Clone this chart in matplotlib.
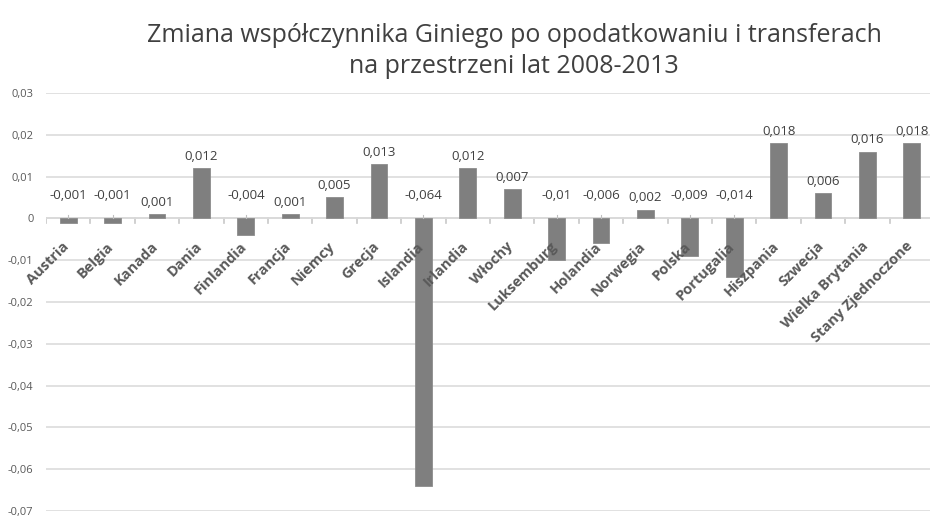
import numpy as np
import matplotlib.pyplot as plt

# dane
kraje = ["Austria", "Belgia", "Kanada", "Dania", "Finlandia", "Francja", "Niemcy",
         "Grecja", "Islandia", "Irlandia", "Włochy", "Luksemburg", "Holandia",
         "Norwegia", "Polska", "Portugalia", "Hiszpania", "Szwecja",
         "Wielka Brytania", "Stany Zjednoczone"]
zmiana = [-0.001, -0.001, 0.001, 0.012, -0.004, 0.001, 0.005, 0.013, -0.064, 0.012,
          0.007, -0.01, -0.006, 0.002, -0.009, -0.014, 0.018, 0.006, 0.016, 0.018]
etykiety = ["-0,001", "-0,001", "0,001", "0,012", "-0,004", "0,001", "0,005", "0,013",
            "-0,064", "0,012", "0,007", "-0,01", "-0,006", "0,002", "-0,009", "-0,014",
            "0,018", "0,006", "0,016", "0,018"]
y_ticks = [0.03, 0.02, 0.01, 0, -0.01, -0.02, -0.03, -0.04, -0.05, -0.06, -0.07]
y_labels = ["0,03", "0,02", "0,01", "0", "-0,01", "-0,02", "-0,03", "-0,04",
            "-0,05", "-0,06", "-0,07"]

plt.rcParams['font.family'] = ['Open Sans', 'DejaVu Sans']

fig = plt.figure(figsize=(9.3, 5.19), dpi=100)
ax = fig.add_axes([46 / 930, 8 / 519, 888 / 930, 418 / 519])

x = np.arange(len(kraje))
ax.bar(x, zmiana, width=0.38, color="#7f7f7f", edgecolor="#8c8c8c", linewidth=0.6, zorder=2)

ax.set_xlim(-0.5, len(kraje) - 0.5)
ax.set_ylim(-0.07, 0.03)
ax.set_yticks(y_ticks)
ax.set_yticklabels(y_labels, fontsize=8, color="#595959")
ax.tick_params(axis="y", length=0, pad=9)
ax.set_xticks([])
ax.grid(axis="y", color="#dcdcdc", linewidth=1.2, zorder=0)
for s in ax.spines.values():
    s.set_visible(False)

# os zerowa z kreskami
ax.axhline(0, color="#c8c8c8", linewidth=1.2, zorder=1)
for k in range(len(kraje) + 1):
    ax.plot([k - 0.5, k - 0.5], [0, -0.0012], color="#c8c8c8", linewidth=1.2, zorder=1)

# etykiety wartosci
for i, (v, t) in enumerate(zip(zmiana, etykiety)):
    if v >= 0:
        ax.annotate(t, (i, v), xytext=(0, 4), textcoords="offset points",
                    ha="center", va="bottom", fontsize=9.5, color="#404040", zorder=4)
    else:
        ax.annotate(t, (i, 0), xytext=(0, 12), textcoords="offset points",
                    ha="center", va="bottom", fontsize=9.5, color="#404040", zorder=4)
        ax.plot([i, i], [0, 0.0009], color="#bfbfbf", linewidth=0.8, zorder=3)

# nazwy krajow
for i, k in enumerate(kraje):
    ax.annotate(k, (i, 0), xytext=(2.5, -15), textcoords="offset points",
                ha="right", va="top", rotation=45, fontsize=10.5, fontweight="bold",
                color="#595959", zorder=5)

fig.text(0.553, 0.902, "Zmiana współczynnika Giniego po opodatkowaniu i transferach\nna przestrzeni lat 2008-2013",
         ha="center", va="center", fontsize=18, color="#404040", linespacing=1.3)

fig.savefig("out.png", dpi=100)
